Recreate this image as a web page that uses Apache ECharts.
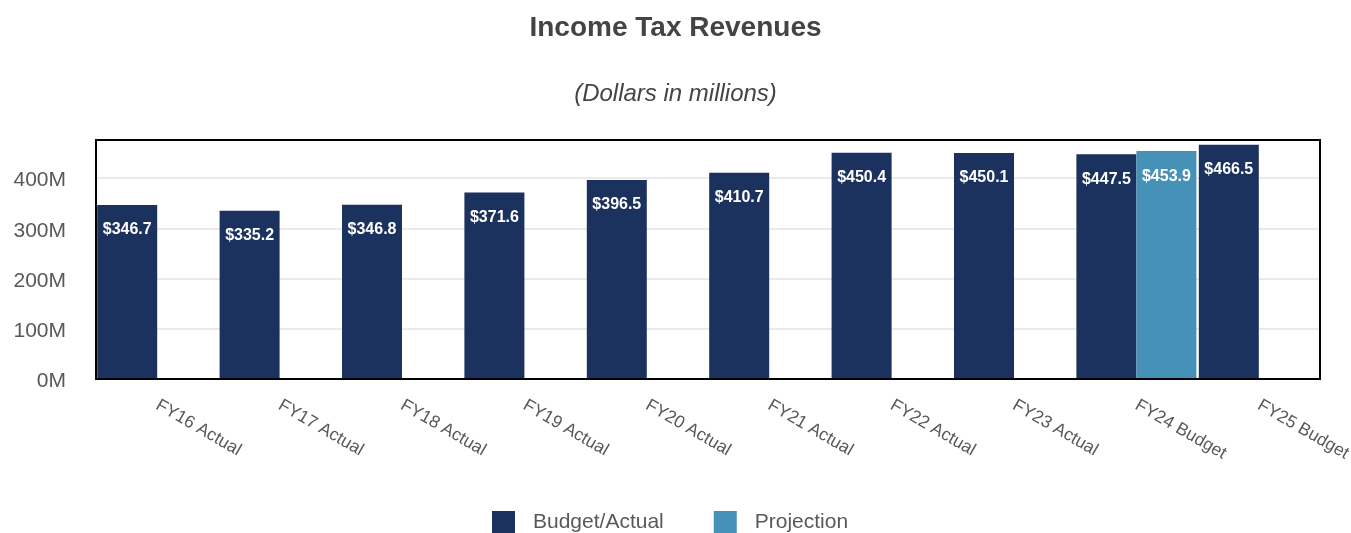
<!DOCTYPE html>
<html>
<head>
<meta charset="utf-8">
<script src="https://cdn.jsdelivr.net/npm/echarts@6/dist/echarts.min.js"></script>
<style>
  html, body { margin: 0; padding: 0; background: #fff; }
  #chart { width: 1351px; height: 533px; }
</style>
</head>
<body>
<div id="chart"></div>
<script>
// Fiscal years on the category axis
const categories = [
  'FY16 Actual', 'FY17 Actual', 'FY18 Actual', 'FY19 Actual', 'FY20 Actual',
  'FY21 Actual', 'FY22 Actual', 'FY23 Actual', 'FY24 Budget', 'FY25 Budget'
];
// Income tax revenues, dollars in millions
const budgetActual = [346.7, 335.2, 346.8, 371.6, 396.5, 410.7, 450.4, 450.1, 447.5, 466.5];
const projection = [null, null, null, null, null, null, null, null, 453.9, null];
// Value axis ticks
const yTicks = [0, 100, 200, 300, 400];
const yMax = 476;

const FONT = "'Liberation Sans', Arial, Helvetica, sans-serif";
const NAVY = '#1B315E';
const STEEL = '#4691B8';

const valueLabel = {
  show: true,
  position: 'insideTop',
  distance: 17,
  color: '#ffffff',
  fontFamily: FONT,
  fontWeight: 'bold',
  fontSize: 16,
  formatter: p => '$' + Number(p.value).toFixed(1)
};

const chart = echarts.init(document.getElementById('chart'), null, { renderer: 'canvas' });
chart.setOption({
  animation: false,
  backgroundColor: '#ffffff',
  title: [
    {
      text: 'Income Tax Revenues',
      left: 'center',
      top: 9,
      textStyle: { fontFamily: FONT, fontSize: 28, fontWeight: 'bold', color: '#444444' }
    },
    {
      text: '(Dollars in millions)',
      left: 'center',
      top: 77,
      textStyle: { fontFamily: FONT, fontSize: 24, fontWeight: 'normal', fontStyle: 'italic', color: '#444444' }
    }
  ],
  legend: {
    left: 492,
    top: 511,
    padding: 0,
    icon: 'rect',
    itemWidth: 23,
    itemHeight: 23,
    itemGap: 50,
    textStyle: { fontFamily: FONT, fontSize: 21, color: '#595959', padding: [2, 0, 0, 13] },
    data: ['Budget/Actual', 'Projection']
  },
  grid: {
    left: 96,
    right: 31,
    top: 140,
    bottom: 154,
    show: true,
    z: 5,
    backgroundColor: 'transparent',
    borderColor: '#000000',
    borderWidth: 2,
    containLabel: false,
    outerBoundsMode: 'none'
  },
  xAxis: {
    type: 'category',
    data: categories,
    axisLine: { show: false },
    axisTick: { show: false },
    axisLabel: {
      rotate: -30,
      margin: 25,
      fontFamily: FONT,
      fontSize: 17.5,
      color: '#595959',
      interval: 0
    }
  },
  yAxis: {
    type: 'value',
    min: yTicks[0],
    max: yMax,
    interval: yTicks[1] - yTicks[0],
    axisLine: { show: false },
    axisTick: { show: false },
    axisLabel: {
      margin: 30,
      verticalAlign: 'top',
      padding: [-8, 0, 0, 0],
      fontFamily: FONT,
      fontSize: 21,
      color: '#595959',
      showMaxLabel: false,
      formatter: v => v + 'M'
    },
    splitLine: {
      showMinLine: false,
      showMaxLine: false,
      lineStyle: { color: '#e3e3e3', width: 1.5 }
    }
  },
  series: [
    {
      name: 'Budget/Actual',
      type: 'bar',
      data: budgetActual,
      barWidth: 60,
      barGap: '0%',
      itemStyle: { color: NAVY },
      label: valueLabel
    },
    {
      name: 'Projection',
      type: 'bar',
      data: projection,
      barWidth: 60,
      barGap: '0%',
      itemStyle: { color: STEEL },
      label: valueLabel
    }
  ]
});
</script>
</body>
</html>
